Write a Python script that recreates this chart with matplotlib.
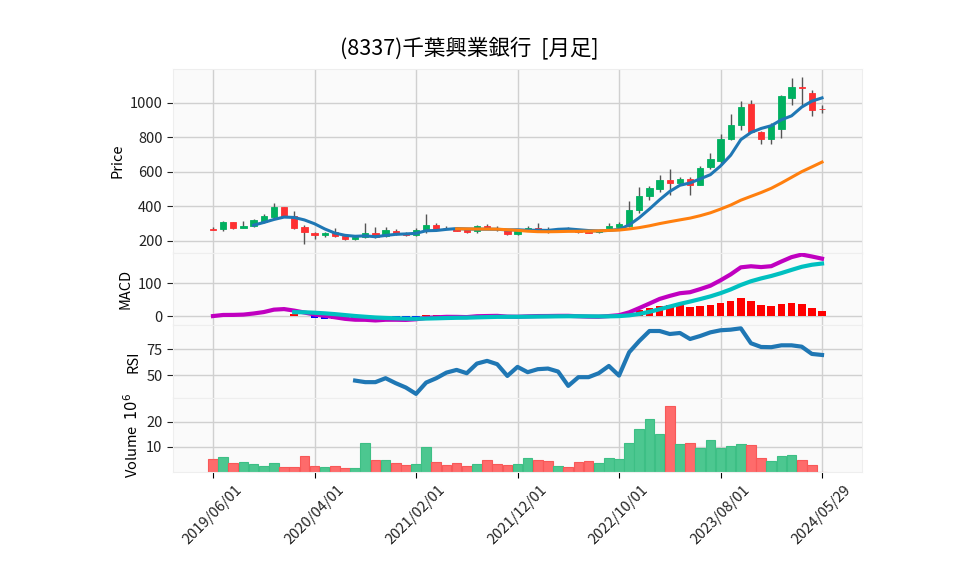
import numpy as np
import pandas as pd
import matplotlib
matplotlib.use('Agg')
import matplotlib.pyplot as plt

plt.rcParams['font.family'] = ['Noto Sans CJK JP', 'DejaVu Sans']

### monthly OHLCV (61 rows, last one is the partial month)
dates = list(pd.date_range('2019-06-01', periods=60, freq='MS')) + [pd.Timestamp('2024-05-29')]

opens = [272, 267, 307, 277, 285, 307, 339, 394, 347, 283,
         245, 232, 250, 230, 210, 220, 246, 228, 259, 242,
         234, 261, 295, 276, 267, 267, 255, 289, 273, 261,
         238, 270, 276, 272, 266, 270, 257, 255, 250, 273,
         279, 285, 381, 458, 504, 552, 535, 558, 527, 627,
         665, 790, 870, 996, 834, 790, 848, 1029, 1093, 1059, 967]
highs = [280, 315, 309, 315, 329, 354, 418, 398, 374, 291,
         253, 251, 275, 234, 232, 303, 281, 279, 267, 250,
         275, 354, 305, 287, 275, 275, 295, 299, 289, 267,
         265, 289, 305, 283, 274, 279, 262, 259, 259, 305,
         312, 429, 515, 519, 583, 615, 571, 573, 635, 708,
         819, 937, 1010, 1019, 838, 882, 1048, 1143, 1149, 1076, 990]
lows = [262, 259, 269, 275, 281, 303, 335, 343, 271, 185,
        212, 224, 224, 204, 206, 216, 216, 224, 236, 230,
        228, 246, 267, 267, 255, 248, 246, 267, 259, 236,
        234, 268, 269, 244, 262, 265, 248, 245, 246, 259,
        275, 281, 362, 437, 485, 467, 531, 469, 523, 619,
        638, 787, 844, 829, 760, 760, 794, 990, 985, 924, 943]
closes = [265, 307, 277, 287, 321, 343, 394, 347, 275, 250,
          232, 245, 226, 210, 222, 244, 220, 263, 242, 234,
          261, 295, 271, 274, 257, 250, 289, 271, 271, 238,
          255, 274, 272, 266, 270, 267, 250, 248, 255, 285,
          296, 379, 460, 506, 552, 538, 558, 527, 625, 673,
          790, 870, 979, 832, 790, 870, 1042, 1093, 1086, 962, 964]
# volume in millions of shares
volumes = [5.1, 6.0, 3.7, 4.1, 3.3, 2.4, 3.7, 2.0, 2.0, 6.3,
           2.4, 2.0, 2.4, 1.6, 1.6, 11.5, 4.7, 4.7, 3.7, 2.9,
           3.3, 9.9, 4.1, 2.9, 3.7, 2.4, 3.3, 4.7, 3.3, 2.9,
           3.3, 5.5, 4.7, 4.3, 2.4, 2.0, 4.1, 4.3, 3.7, 5.5,
           5.1, 11.5, 17.0, 20.9, 14.9, 26.1, 11.1, 11.5, 9.5, 12.6,
           9.5, 10.3, 11.1, 10.7, 5.5, 4.3, 6.3, 6.7, 4.7, 2.9, 0.2]
# RSI(14), starts at row 14
rsi_vals = [44.8, 43.3, 43.3, 47.1, 42.3, 38.1, 32.0, 42.9, 47.1, 52.5,
            55.1, 51.9, 61.2, 63.8, 60.6, 49.3, 58.0, 52.9, 55.8, 56.4,
            53.5, 39.7, 48.1, 48.1, 51.9, 58.9, 49.6, 72.1, 83.0, 92.6,
            92.6, 89.7, 90.7, 84.9, 87.8, 91.3, 93.3, 93.9, 95.2, 80.8,
            77.2, 77.0, 78.8, 78.8, 77.5, 70.5, 69.5]

df = pd.DataFrame({'open': opens, 'high': highs, 'low': lows,
                   'close': closes, 'volume': volumes}, index=dates)
x = np.arange(len(df))

### indicators
ma5 = df['close'].rolling(5).mean()
ma25 = df['close'].rolling(25).mean()
ema12 = df['close'].ewm(span=12, adjust=False).mean()
ema26 = df['close'].ewm(span=26, adjust=False).mean()
macd = ema12 - ema26
signal = macd.ewm(span=9, adjust=False, min_periods=9).mean()
hist = macd - signal
rsi = pd.Series([np.nan] * 14 + rsi_vals, index=df.index)

up_c, down_c = '#00b060', '#fe3032'
vol_up, vol_down = '#4cc790', '#fe6b6b'
face = '#fafafa'
grid_c = '#d0d0d0'

fig = plt.figure(figsize=(9.58, 5.75), dpi=100)
left, width = 0.1806, 0.7192
ax1 = fig.add_axes([left, 0.560, width, 0.320])
ax2 = fig.add_axes([left, 0.4348, width, 0.1252], sharex=ax1)
ax3 = fig.add_axes([left, 0.3078, width, 0.127], sharex=ax1)
ax4 = fig.add_axes([left, 0.1791, width, 0.1287], sharex=ax1)

for ax in (ax1, ax2, ax3, ax4):
    ax.set_facecolor(face)
    ax.grid(True, color=grid_c, linewidth=1.0)
    ax.set_axisbelow(True)
    for s in ax.spines.values():
        s.set_color('#eeeeee')
    ax.tick_params(axis='y', labelsize=10.5, length=4, colors='#222222')

# candles
up = df['close'] >= df['open']
colors = np.where(up, up_c, down_c)
ax1.vlines(x, df['low'], df['high'], color='#555555', linewidth=1.0, zorder=2)
body_lo = np.minimum(df['open'], df['close'])
body_h = np.abs(df['close'] - df['open']).clip(lower=2)
ax1.bar(x, body_h, bottom=body_lo, width=0.62, color=colors, edgecolor=colors,
        linewidth=0.6, zorder=3)
ax1.plot(x, ma5, color='#1f77b4', linewidth=2.2, zorder=4)
ax1.plot(x, ma25, color='#ff7f0e', linewidth=2.2, zorder=4)
ax1.set_ylim(130, 1197)
ax1.set_yticks([200, 400, 600, 800, 1000])
ax1.set_ylabel('Price', fontsize=10.5)

# MACD
hist_colors = np.where(hist >= 0, 'red', 'blue')
ax2.bar(x, hist, width=0.75, color=hist_colors, zorder=2)
ax2.plot(x, macd, color='#c000c0', linewidth=3, zorder=3)
ax2.plot(x, signal, color='#00c0c0', linewidth=3, zorder=4)
ax2.set_ylim(-27, 191)
ax2.set_yticks([0, 100])
ax2.set_ylabel('MACD', fontsize=10.5)

# RSI
ax3.plot(x, rsi, color='#1f77b4', linewidth=3)
ax3.set_ylim(28, 98.4)
ax3.set_yticks([50, 75])
ax3.set_ylabel('RSI', fontsize=10.5)

# Volume
vcolors = np.where(up, vol_up, vol_down)
vedges = np.where(up, '#3dbf85', '#f85858')
ax4.bar(x, df['volume'], width=0.95, color=vcolors, edgecolor=vedges, linewidth=0.8)
ax4.set_ylim(0, 29.3)
ax4.set_yticks([10, 20])
ax4.set_ylabel('Volume  $10^6$', fontsize=10.5)

tick_idx = list(range(0, len(df), 10))
ax4.set_xticks(tick_idx)
ax4.set_xticklabels([df.index[i].strftime('%Y/%m/%d') for i in tick_idx],
                    rotation=45, ha='center', fontsize=10.5, color='#222222')
ax4.tick_params(axis='x', length=4)
for ax in (ax1, ax2, ax3):
    ax.tick_params(axis='x', labelbottom=False, length=0)
ax1.set_xlim(-3.94, 63.94)

fig.suptitle('(8337)千葉興業銀行  [月足]', x=0.49, y=0.937, fontsize=15.5)

fig.savefig('out.png', dpi=100)
